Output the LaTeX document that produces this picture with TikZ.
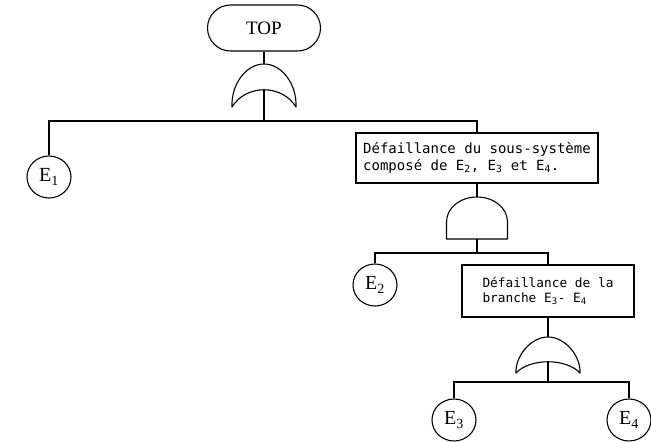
\documentclass[tikz,border=0pt]{standalone}
\usepackage{fontspec}
\setmainfont{Liberation Serif}
\newfontfamily\boxfont{DejaVu Sans Mono}
\usetikzlibrary{shapes.geometric}
% OR gate: top point, height to the tips, depth of the hollow
\newcommand\orgate[3]{%
  \begin{scope}[shift={(#1)}]
    \draw[gate] (-32,#2) .. controls (-33,20) and (-17.7,0) .. (0,0)
      .. controls (17.7,0) and (33,20) .. (32,#2)
      .. controls (18,#3) and (-18,#3) .. (-32,#2) -- cycle;
  \end{scope}}
\begin{document}
\begin{tikzpicture}[x=1pt,y=-1pt,
   line width=1.1pt,
   every node/.style={inner sep=0pt},
   topev/.style={draw,rounded corners=23pt,minimum width=113pt,minimum height=46pt,font=\fontsize{19}{19}\selectfont},
   event/.style={draw,ellipse,minimum width=44pt,minimum height=42pt,font=\fontsize{20}{20}\selectfont},
   box/.style={draw,align=left},
   gate/.style={line width=1.1pt,line join=round}]
\useasboundingbox (0,0) rectangle (651,442);
\node[topev] (top) at (264,28) {TOP};
\coordinate (g1in) at (264,64);
\coordinate (g1out) at (264,90);
\coordinate (j1) at (264,121);
\orgate{g1in}{43}{20}
\draw (top) -- (g1in);
\draw (g1out) -- (j1);
\node[event] (e1) at (49,177) {E\textsubscript{1}};
\node[box,minimum width=242pt,minimum height=50pt,font=\boxfont\fontsize{14}{17}\selectfont] (box1) at (477,158)
  {Défaillance du sous-système\\composé de E\textsubscript{2}, E\textsubscript{3} et E\textsubscript{4}.};
\draw (e1) |- (j1) -| (box1);
% AND gate
\coordinate (g2in) at (477,197);
\coordinate (g2out) at (477,239);
\coordinate (j2) at (477,253);
\begin{scope}[shift={(g2in)}]
  \draw[gate] (-30.5,42) -- (-30.5,25) .. controls (-30.5,11) and (-17,0) .. (0,0)
    .. controls (17,0) and (30.5,11) .. (30.5,25) -- (30.5,42) -- cycle;
\end{scope}
\draw (box1) -- (g2in);
\draw (g2out) -- (j2);
\node[event] (e2) at (375,285) {E\textsubscript{2}};
\node[box,minimum width=172pt,minimum height=52pt,font=\boxfont\fontsize{12.8}{15}\selectfont] (box2) at (548,291)
  {Défaillance de la\\branche E\textsubscript{3}- E\textsubscript{4}};
\draw (e2) |- (j2) -| (box2);
\coordinate (g3in) at (548,337);
\coordinate (g3out) at (548,362);
\coordinate (j3) at (548,382);
\orgate{g3in}{36}{21}
\draw (box2) -- (g3in);
\draw (g3out) -- (j3);
\node[event] (e3) at (454,420) {E\textsubscript{3}};
\node[event] (e4) at (629,420) {E\textsubscript{4}};
\draw (e3) |- (j3) -| (e4);
\end{tikzpicture}
\end{document}
